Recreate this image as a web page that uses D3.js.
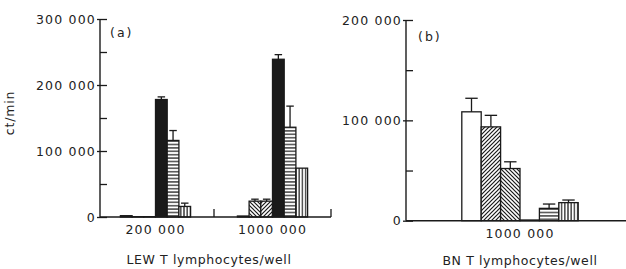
<!DOCTYPE html>
<html>
<head>
<meta charset="utf-8">
<script src="https://cdn.jsdelivr.net/npm/d3@7"></script>
<style>
  body { margin: 0; background: #fff; }
  svg text { font-family: "DejaVu Sans", sans-serif; fill: #222; }
</style>
</head>
<body>
<svg width="626" height="269"></svg>
<script>
// Data (ct/min); errors are the top of the error bar
const seriesNames = ["open", "hatch1", "hatch2", "solid", "horizontal", "vertical"];

const groupsA = ["200 000", "1000 000"];
const valuesA = [
  [2000, 500, 500, 178000, 116000, 16000],
  [1500, 24000, 24000, 239000, 136000, 74000]
];
const errorsA = [
  [null, null, null, 182000, 131000, 21000],
  [null, 27000, 27000, 246000, 168000, null]
];
const ticksA = [0, 100000, 200000, 300000];

const groupsB = ["1000 000"];
const valuesB = [
  [108500, 93500, 52000, 700, 12300, 18000]
];
const errorsB = [
  [122000, 105000, 58700, null, 16600, 20600]
];
const ticksB = [0, 100000, 200000];

const ink = "#1a1a1a";
const svg = d3.select("svg");

// Hatch patterns
const defs = svg.append("defs");
function pattern(id, size, lines) {
  const p = defs.append("pattern")
      .attr("id", id)
      .attr("patternUnits", "userSpaceOnUse")
      .attr("width", size).attr("height", size);
  p.append("rect").attr("width", size).attr("height", size).attr("fill", "#fff");
  lines.forEach(l => p.append("line")
      .attr("x1", l[0]).attr("y1", l[1]).attr("x2", l[2]).attr("y2", l[3])
      .attr("stroke", ink).attr("stroke-width", 1.2));
}
pattern("up", 4, [[0, 4, 4, 0], [-1, 1, 1, -1], [3, 5, 5, 3]]);
pattern("down", 4, [[0, 0, 4, 4], [-1, 3, 1, 5], [3, -1, 5, 1]]);
pattern("horiz", 3.4, [[0, 1.7, 3.4, 1.7]]);
pattern("vert", 3.2, [[1.6, 0, 1.6, 3.2]]);

const fillsA = ["#fff", "url(#down)", "url(#up)", ink, "url(#horiz)", "url(#vert)"];
const fillsB = ["#fff", "url(#up)", "url(#down)", ink, "url(#horiz)", "url(#vert)"];

const fmt = d3.formatLocale({ thousands: " ", grouping: [3], decimal: "." }).format(",");

function panel(opt) {
  const y = d3.scaleLinear().domain(opt.yDomain).range([opt.y0, opt.y1]);
  const x = d3.scaleBand().domain(opt.groups).range(opt.xRange);
  const inner = d3.scaleBand().domain(seriesNames).range([0, x.bandwidth() * opt.barFrac]);
  const g = svg.append("g");

  // bars
  opt.groups.forEach((grp, gi) => {
    const left = x(grp) + (x.bandwidth() - inner.range()[1]) / 2;
    const bw = inner.bandwidth();
    const rows = seriesNames.map((s, i) => ({ s, v: opt.values[gi][i], e: opt.errors[gi][i], f: opt.fills[i] }));
    g.selectAll(null).data(rows).enter().append("rect")
        .attr("x", d => left + inner(d.s))
        .attr("y", d => y(d.v))
        .attr("width", bw)
        .attr("height", d => opt.y0 - y(d.v))
        .attr("fill", d => d.f)
        .attr("stroke", ink).attr("stroke-width", 1.3);
    const eb = rows.filter(d => d.e != null);
    g.selectAll(null).data(eb).enter().append("line")
        .attr("x1", d => left + inner(d.s) + bw / 2).attr("x2", d => left + inner(d.s) + bw / 2)
        .attr("y1", d => y(d.v)).attr("y2", d => y(d.e))
        .attr("stroke", ink).attr("stroke-width", 1.3);
    g.selectAll(null).data(eb).enter().append("line")
        .attr("x1", d => left + inner(d.s) + bw * 0.18).attr("x2", d => left + inner(d.s) + bw * 0.82)
        .attr("y1", d => y(d.e)).attr("y2", d => y(d.e))
        .attr("stroke", ink).attr("stroke-width", 1.3);
    g.append("text")
        .attr("x", x(grp) + x.bandwidth() / 2)
        .attr("y", opt.catY)
        .attr("text-anchor", "middle")
        .style("font-size", "12.5px").style("letter-spacing", "1.2px")
        .text(grp);
  });

  // y axis: labelled major ticks crossing, minor ticks inside
  const major = g.append("g").attr("transform", `translate(${opt.xAxis},0)`)
      .call(d3.axisLeft(y).tickValues(opt.ticks).tickFormat(fmt).tickSize(3).tickPadding(1));
  const minor = g.append("g").attr("transform", `translate(${opt.xAxis},0)`)
      .call(d3.axisLeft(y).ticks(opt.yDomain[1] / 50000).tickFormat("").tickSize(-7));
  [major, minor].forEach(a => {
    a.select(".domain").remove();
    a.selectAll("line").attr("stroke", ink).attr("stroke-width", 1.3);
  });
  major.selectAll("text").style("font-size", "12.5px").style("letter-spacing", "1.2px")
      .attr("fill", "#222").style("font-family", "DejaVu Sans");
  g.append("line")
      .attr("x1", opt.xAxis).attr("x2", opt.xAxis).attr("y1", opt.y1).attr("y2", opt.y0)
      .attr("stroke", ink).attr("stroke-width", 1.4);
  g.append("line")
      .attr("x1", opt.xAxis).attr("x2", opt.xEnd).attr("y1", opt.y0).attr("y2", opt.y0)
      .attr("stroke", ink).attr("stroke-width", 1.4);

  // ticks between groups
  opt.groupTicks.forEach(t => g.append("line")
      .attr("x1", t).attr("x2", t).attr("y1", opt.y0).attr("y2", opt.y0 - 8)
      .attr("stroke", ink).attr("stroke-width", 1.3));

  g.append("text").attr("x", opt.tag[0]).attr("y", opt.tag[1])
      .style("font-size", "12.5px").style("letter-spacing", "2px").text(opt.tagText);
  g.append("text").attr("x", opt.title[0]).attr("y", opt.title[1])
      .attr("text-anchor", "middle")
      .style("font-size", "12.5px").style("letter-spacing", "0.6px").text(opt.titleText);
}

const xA = d3.scaleBand().domain(groupsA).range([97, 331]);
panel({
  groups: groupsA, values: valuesA, errors: errorsA, fills: fillsA, ticks: ticksA,
  yDomain: [0, 300000], y0: 217, y1: 19,
  xRange: [97, 331], barFrac: 0.6, xAxis: 100, xEnd: 331,
  groupTicks: [xA("1000 000"), 331],
  catY: 234, tag: [110, 37], tagText: "(a)",
  title: [209, 264], titleText: "LEW T lymphocytes/well"
});
panel({
  groups: groupsB, values: valuesB, errors: errorsB, fills: fillsB, ticks: ticksB,
  yDomain: [0, 200000], y0: 220.7, y1: 20,
  xRange: [423, 617], barFrac: 0.6, xAxis: 406, xEnd: 626,
  groupTicks: [],
  catY: 238, tag: [418, 41], tagText: "(b)",
  title: [520, 265], titleText: "BN T lymphocytes/well"
});

svg.append("text")
    .attr("transform", "translate(14,113) rotate(-90)")
    .attr("text-anchor", "middle")
    .style("font-size", "12.5px").style("letter-spacing", "0.8px")
    .text("ct/min");
</script>
</body>
</html>
